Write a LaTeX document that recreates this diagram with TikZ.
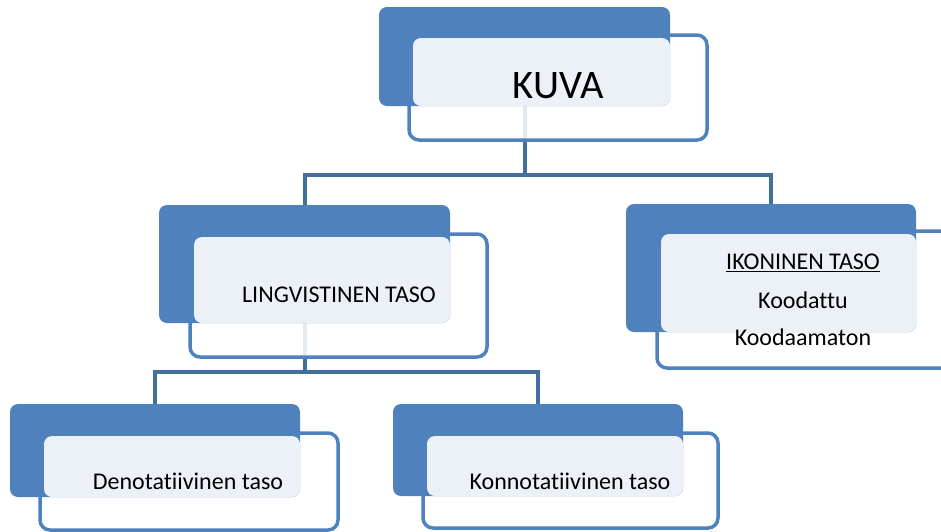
\documentclass[tikz,border=0pt]{standalone}
\usepackage{fontspec}
\setmainfont[Ligatures={NoCommon}]{Carlito}
\usetikzlibrary{backgrounds}
\definecolor{blueA}{HTML}{4F81BD}
\definecolor{lightA}{HTML}{ECF1F8}
\definecolor{linkC}{HTML}{41709C}
\tikzset{
  box/.style={inner sep=0pt, outer sep=0pt, anchor=north west},
  back/.style={box, fill=blueA, rounded corners=8pt},
  frame/.style={box, draw=blueA, line width=3.5pt, fill=white, fill opacity=0.86, draw opacity=1, rounded corners=10pt},
  face/.style={box, fill=lightA, rounded corners=8pt},
  link/.style={draw=linkC, line width=4pt},
  small/.style={font=\fontsize{24}{29}\selectfont, text=black, inner sep=0pt},
  big/.style={font=\fontsize{40.5}{48}\selectfont, text=black, inner sep=0pt},
}
\begin{document}
\begin{tikzpicture}[x=1pt,y=-1pt]
\useasboundingbox (0,0) rectangle (941,531);
% KUVA
\node[frame, minimum width=298, minimum height=105] (kuvaF) at (409,35) {};
\node[back, minimum width=291, minimum height=99] (kuvaB) at (379,7) {};
\node[face, minimum width=257, minimum height=68] (kuvaS) at (413,38) {};
\node[big] (kuvaT) at (558,86) {KUVA};
% LINGVISTINEN
\node[frame, minimum width=297, minimum height=123] (lingF) at (190,234) {};
\node[back, minimum width=291, minimum height=118] (lingB) at (159,205) {};
\node[face, minimum width=256, minimum height=86] (lingS) at (194,237) {};
\node[small] (lingT) at (339,295) {LINGVISTINEN TASO};
% IKONINEN
\node[frame, minimum width=310, minimum height=137] (ikonF) at (657,231) {};
\node[back, minimum width=290, minimum height=128] (ikonB) at (626,204) {};
\node[face, minimum width=255, minimum height=98] (ikonS) at (661,234) {};
\node[small] (ikonT1) at (803,263) {\underline{IKONINEN TASO}};
\node[small] (ikonT2) at (803,300) {Koodattu};
\node[small] (ikonT3) at (803,337) {Koodaamaton};
% DENOTATIIVINEN
\node[frame, minimum width=298, minimum height=97] (denoF) at (40,433) {};
\node[back, minimum width=290, minimum height=93] (denoB) at (10,404) {};
\node[face, minimum width=256, minimum height=61] (denoS) at (44,436) {};
\node[small] (denoT) at (188,481) {Denotatiivinen taso};
% KONNOTATIIVINEN
\node[frame, minimum width=295, minimum height=95] (konnoF) at (423,433) {};
\node[back, minimum width=290, minimum height=92] (konnoB) at (393,404) {};
\node[face, minimum width=256, minimum height=60] (konnoS) at (427,436) {};
\node[small] (konnoT) at (570,481) {Konnotatiivinen taso};
% connectors
\begin{pgfonlayer}{background}
\draw[link] (kuvaB.south) -- ([yshift=-69pt]kuvaB.south) -| (lingB.north);
\draw[link] ([yshift=-69pt]kuvaB.south) -| (ikonB.north);
\draw[link] (lingB.south) -- ([yshift=-49pt]lingB.south) -| (denoB.north);
\draw[link] ([yshift=-49pt]lingB.south) -| (konnoB.north);
\end{pgfonlayer}
\end{tikzpicture}
\end{document}
